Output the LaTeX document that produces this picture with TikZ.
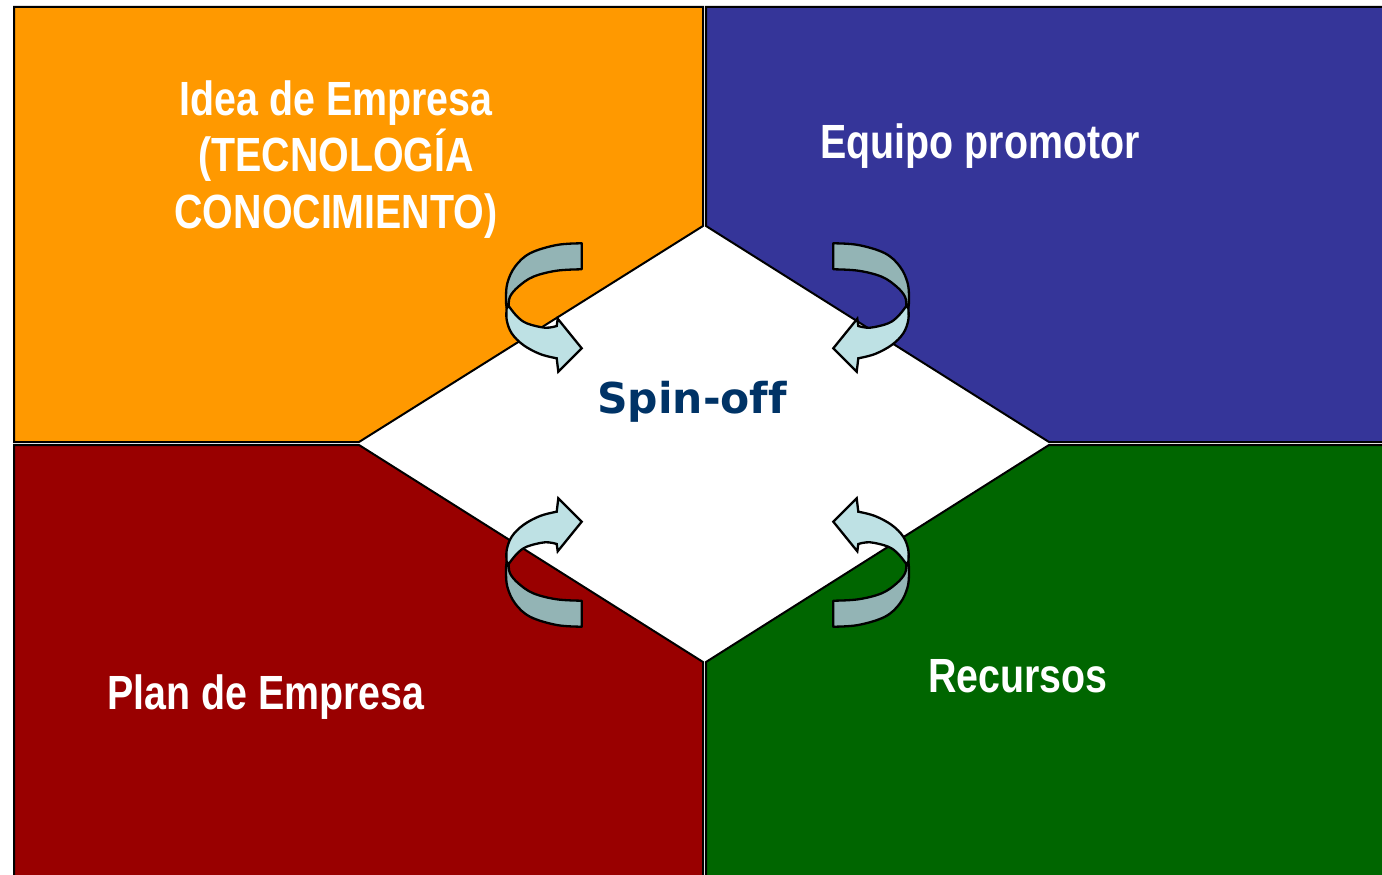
\documentclass[tikz,border=0pt]{standalone}
\usepackage{fontspec}
\setmainfont{Liberation Sans}[FakeStretch=0.82]
\newfontfamily\spinfont{DejaVu Sans}[Ligatures=NoCommon]
\definecolor{cOrange}{HTML}{FF9900}
\definecolor{cBlue}{HTML}{353599}
\definecolor{cRed}{HTML}{990000}
\definecolor{cGreen}{HTML}{006600}
\definecolor{cSpin}{HTML}{003366}
\definecolor{cArrowDark}{HTML}{93B4B5}
\definecolor{cArrowLight}{HTML}{BEE1E4}
\tikzset{
  quad/.style={draw=black,line width=2pt,line join=miter},
  lbl/.style={text=white,font=\fontsize{48}{57}\selectfont\bfseries,inner sep=0pt,anchor=base},
  arrdark/.style={fill=cArrowDark,draw=black,line width=2.3pt,line join=round},
  arrlight/.style={fill=cArrowLight,draw=black,line width=2.3pt,line join=miter},
}
\newcommand{\curvarrow}{%
  \filldraw[arrdark] plot[smooth,tension=0.6] coordinates {(-125.8,-191.7) (-150.8,-190) (-177.5,-181.7) (-192.5,-168.3) (-200.2,-151.7) (-201.5,-135) (-200.8,-127)}
    -- plot[smooth,tension=0.6] coordinates {(-198.8,-129) (-197.5,-138.3) (-189.2,-148.3) (-174.2,-158.3) (-150.8,-164.3) (-125.8,-165.7)} -- cycle;
  \filldraw[arrlight] plot[smooth,tension=0.6] coordinates {(-200.8,-127) (-200.8,-115) (-195.8,-101.7) (-184.2,-90) (-167.5,-81) (-150.8,-76.7)}
    -- (-149.2,-63.3) -- (-125.8,-86.7) -- (-149.8,-116.3) -- (-150.8,-109)
    -- plot[smooth,tension=0.6] coordinates {(-150.8,-109) (-162.5,-107.3) (-180.8,-111.7) (-190.8,-119) (-198.8,-129)} -- cycle;
}
\begin{document}
\begin{tikzpicture}[x=1pt,y=-1pt]
\useasboundingbox (0,0) rectangle (1382,875);
% quadrants
\filldraw[quad,fill=cOrange] (14,7) -- (703,7) -- (703,226) -- (359,442) -- (14,442) -- cycle;
\filldraw[quad,fill=cBlue] (706,7) -- (1390,7) -- (1390,442) -- (1049,442) -- (706,226) -- cycle;
\filldraw[quad,fill=cRed] (14,445) -- (359,445) -- (703,662) -- (703,885) -- (14,885) -- cycle;
\filldraw[quad,fill=cGreen] (706,662) -- (1049,445) -- (1390,445) -- (1390,885) -- (706,885) -- cycle;
% labels
\node[lbl] (idea1) at (336,115) {Idea de Empresa};
\node[lbl] (idea2) at (336,171) {(TECNOLOGÍA};
\node[lbl] (idea3) at (336,228) {CONOCIMIENTO)};
\node[lbl] (equipo) at (980,158) {Equipo promotor};
\node[lbl] (plan) at (266,709) {Plan de Empresa};
\node[lbl] (recursos) at (1018,692) {Recursos};
\node[inner sep=0pt,anchor=base,text=cSpin,font=\spinfont\fontsize{42.5}{48}\selectfont\bfseries] (spin) at (692,413) {Spin-off};
% curved arrows
\begin{scope}[shift={(707.5,435)}]
  \curvarrow
\end{scope}
\begin{scope}[shift={(707.5,435)},xscale=-1]
  \curvarrow
\end{scope}
\begin{scope}[shift={(707.5,435)},yscale=-1]
  \curvarrow
\end{scope}
\begin{scope}[shift={(707.5,435)},xscale=-1,yscale=-1]
  \curvarrow
\end{scope}
\end{tikzpicture}
\end{document}
